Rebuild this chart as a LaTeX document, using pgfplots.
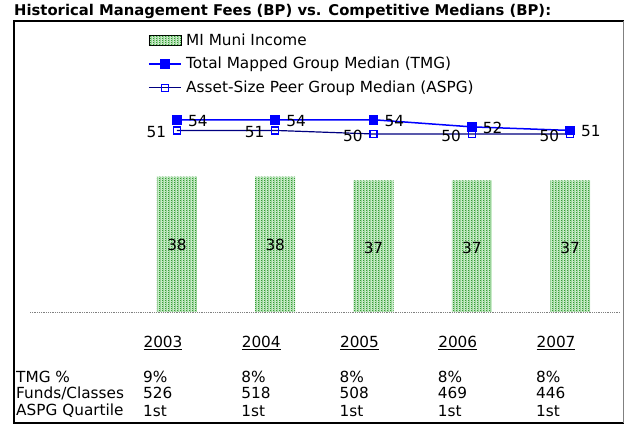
\documentclass[border=0pt]{standalone}
\usepackage{pgfplots}
\pgfplotsset{compat=1.18}
\usepackage{fontspec}
\setmainfont{DejaVu Sans}
\usetikzlibrary{patterns}
\newcommand{\fs}{\fontsize{15.3bp}{18bp}\selectfont}
\definecolor{tmgblue}{RGB}{0,0,255}
\definecolor{aspgnavy}{RGB}{0,0,128}
\definecolor{bargreen}{RGB}{0,130,0}
\definecolor{barfill}{RGB}{200,235,200}
% dotted vertical stripes, one pixel wide
\pgfdeclarepatternformonly{vdots}{\pgfpointorigin}{\pgfpoint{3bp}{2bp}}{\pgfpoint{3bp}{2bp}}{%
  \pgfpathrectangle{\pgfpointorigin}{\pgfpoint{1bp}{1bp}}%
  \pgfpathrectangle{\pgfpoint{1bp}{1bp}}{\pgfpoint{1bp}{1bp}}\pgfusepath{fill}}
\pgfplotsset{
  barleg/.style={legend image code/.code={\draw[##1] (0bp,-5bp) rectangle (32bp,5bp);}},
  lineleg/.style={legend image code/.code={\draw[mark repeat=2,mark phase=2,##1] plot coordinates {(0bp,0bp) (16bp,0bp) (32bp,0bp)};}},
}

\begin{document}
\begin{tikzpicture}[x=1bp,y=1bp,font=\fs]
\useasboundingbox (0,0) rectangle (637,433);
% title
\node[anchor=west,inner sep=0,font=\fontsize{14.8bp}{17bp}\selectfont\bfseries] at (14,422) {Historical Management Fees (BP) vs. Competitive Medians (BP):};
% frame
\draw[line width=2bp] (13,411.5) -- (624,411.5);
\draw[line width=2bp] (13,10) -- (624,10);
\draw[line width=1.2bp] (14,411.5) -- (14,10);
\draw[line width=1.2bp,gray] (623.5,411.5) -- (623.5,10);

\begin{axis}[
  at={(30bp,121bp)}, anchor=south west,
  scale only axis, width=590bp, height=213.6bp,
  xmin=-1.496, xmax=4.509, ymin=0, ymax=60,
  axis y line=none, axis x line=bottom,
  x axis line style={-, gray, line width=0.8bp, densely dotted},
  xtick={0,...,4},
  xticklabels={\underline{2003},\underline{2004},\underline{2005},\underline{2006},\underline{2007}},
  major tick length=0pt, ytick=\empty,
  xticklabel style={anchor=center, yshift=-31bp, xshift=-14bp, font=\fs},
  clip=false,
  /pgf/number format/assume math mode=true,
  legend style={at={(0.2,1.312)}, anchor=north west, draw=none, fill=none,
    font=\fs, inner sep=0pt, row sep=7.8bp, column sep=3bp, nodes={inner sep=1.5bp}},
  legend cell align=left,
]
\addplot[ybar, bar width=40bp, draw=none, fill=barfill,
  postaction={pattern=vdots, pattern color=bargreen},
  barleg,
  nodes near coords,
  every node near coord/.append style={anchor=center, yshift=-68bp, font=\fs, text=black}]
  coordinates {(0,38) (1,38) (2,37) (3,37) (4,37)};
\addlegendentry{MI Muni Income}

\addplot[tmgblue, line width=1.5bp, mark=square*, mark size=4bp,
  mark options={solid, fill=tmgblue},
  lineleg,
  nodes near coords,
  every node near coord/.append style={anchor=west, xshift=7bp, yshift=-1bp, font=\fs, text=black}]
  coordinates {(0,54) (1,54) (2,54) (3,52) (4,51)};
\addlegendentry{Total Mapped Group Median (TMG)}

\addplot[aspgnavy, line width=1.2bp, mark=square, mark size=3.5bp,
  mark options={solid, draw=tmgblue, fill=white, line width=1.2bp},
  lineleg,
  nodes near coords,
  every node near coord/.append style={anchor=east, xshift=-7bp, yshift=-2bp, font=\fs, text=black}]
  coordinates {(0,51) (1,51) (2,50) (3,50) (4,50)};
\addlegendentry{Asset-Size Peer Group Median (ASPG)}
\end{axis}

% table below the chart
\node[anchor=west,inner sep=0] at (16,56) {TMG \%};
\node[anchor=west,inner sep=0] at (16,40) {Funds/Classes};
\node[anchor=west,inner sep=0] at (16,22) {ASPG Quartile};
\foreach \i/\p/\f in {0/9/526,1/8/518,2/8/508,3/8/469,4/8/446} {
  \node[anchor=west,inner sep=0] at ({177+98.25*\i-34},56) {\p\%};
  \node[anchor=west,inner sep=0] at ({177+98.25*\i-34},40) {\f};
  \node[anchor=west,inner sep=0] at ({177+98.25*\i-34},22) {1st};
}
\end{tikzpicture}
\end{document}
